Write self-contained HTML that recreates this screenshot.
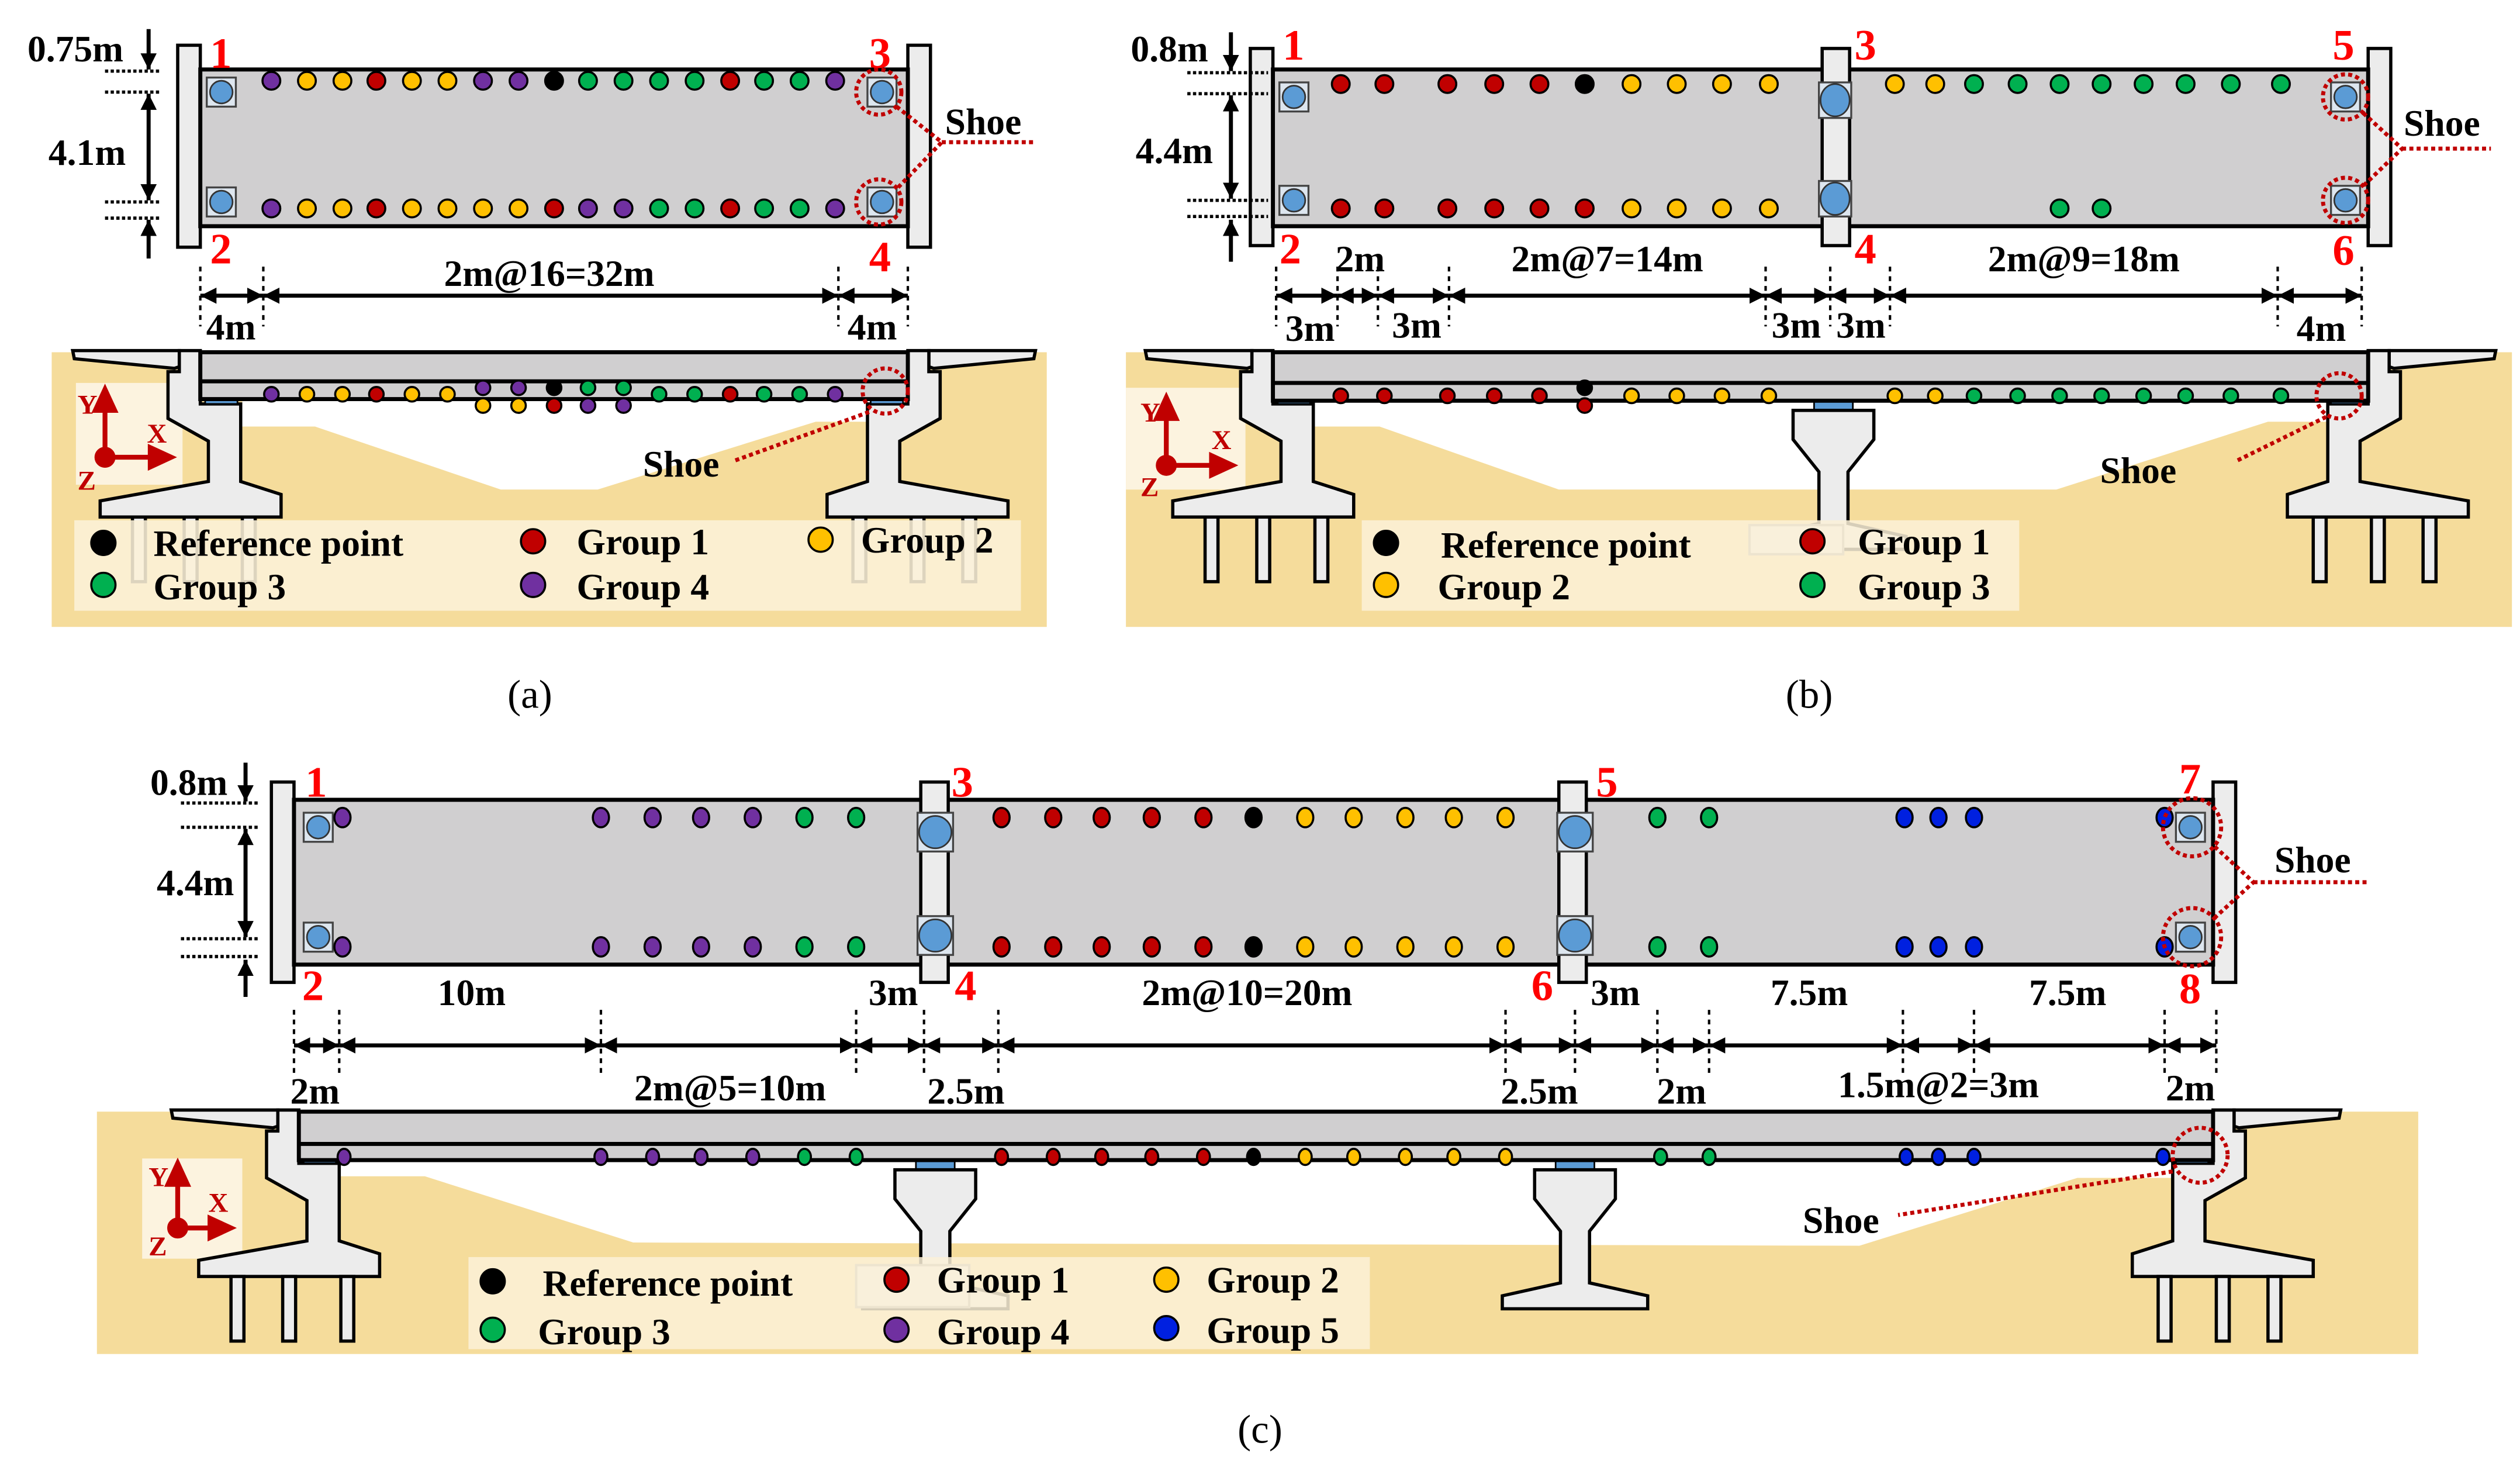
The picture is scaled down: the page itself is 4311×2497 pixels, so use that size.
<!DOCTYPE html>
<html><head><meta charset="utf-8"><style>
html,body{margin:0;padding:0;background:#fff;}
svg{display:block;}
text{font-family:"Liberation Serif",serif;font-weight:bold;font-size:23px;fill:#000;}
.n{fill:#ff0000;font-size:27px;}
.c{font-weight:normal;font-size:25px;}
.lg{font-size:23px;}
.ax{fill:#c00000;font-size:17px;}
.dim{stroke:#000;stroke-width:2.5;fill:none;}
.dot{stroke:#000;stroke-width:1.3;}
.vd{stroke:#000;stroke-width:1.5;stroke-dasharray:3,3;}
.hd{stroke:#000;stroke-width:2;stroke-dasharray:2,1.5;}
.sc{fill:none;stroke:#c00000;stroke-width:2.5;stroke-dasharray:2.5,2;}
.con{fill:#ececec;stroke:#000;stroke-width:2;}
.deck{fill:#d0cfd0;stroke:#000;stroke-width:2.5;}
</style></head><body>
<svg width="4311" height="2497" viewBox="0 0 1560 903.6" preserveAspectRatio="none" xmlns="http://www.w3.org/2000/svg">
<defs>
<marker id="ar" viewBox="0 0 10 10" refX="10" refY="5" markerWidth="4" markerHeight="4" orient="auto-start-reverse"><path d="M0,0L10,5L0,10z" fill="#000"/></marker>
<g id="shoe"><rect x="-9" y="-9" width="18" height="18" fill="#dde6ef" stroke="#444" stroke-width="1.2"/><circle r="7" fill="#5b9bd5" stroke="#333" stroke-width="1"/></g>
<g id="abut">
<polygon class="con" points="-79,-1 -13,-1 -13,9 -16,10 -78,4"/>
<polygon class="con" points="-13,-1 0,-1 0,32 25,32 25,80 50,88 50,102 -62,102 -62,92 5,80 5,55 -20,41 -20,12 -13,12"/>
<rect class="con" x="-42" y="102" width="8" height="40"/>
<rect class="con" x="-10" y="102" width="8" height="40"/>
<rect class="con" x="26" y="102" width="8" height="40"/>
<rect x="3" y="25" width="20" height="7" fill="#5b9bd5" stroke="#000" stroke-width="1"/>
</g>
<g id="pier">
<rect x="-12" y="0" width="24" height="6" fill="#5b9bd5" stroke="#000" stroke-width="1"/>
<polygon class="con" points="-25,6 25,6 25,24 9,44 9,76 45,84 45,92 -45,92 -45,84 -9,76 -9,44 -25,24"/>
</g>
</defs>

<!-- ============ (a) ============ -->
<rect x="32" y="218" width="616" height="170" fill="#f5dc9b"/>
<polygon points="150,247 560,247 560,261 505,261 370,303 310,303 195,264 150,264" fill="#fff"/>
<rect x="47" y="237" width="66" height="63" fill="#fcf3df"/>
<use href="#abut" transform="translate(124,218)"/>
<use href="#abut" transform="translate(562,218) scale(-1,1)"/>
<rect class="deck" x="124" y="218" width="438" height="29"/>
<line x1="124" y1="236" x2="562" y2="236" stroke="#000" stroke-width="2.5"/>
<g class="dot">
<circle cx="168" cy="244" r="4.5" fill="#7030a0"/><circle cx="190" cy="244" r="4.5" fill="#ffc000"/><circle cx="212" cy="244" r="4.5" fill="#ffc000"/><circle cx="233" cy="244" r="4.5" fill="#c00000"/><circle cx="255" cy="244" r="4.5" fill="#ffc000"/><circle cx="277" cy="244" r="4.5" fill="#ffc000"/>
<circle cx="299" cy="240" r="4.5" fill="#7030a0"/><circle cx="321" cy="240" r="4.5" fill="#7030a0"/><circle cx="343" cy="240" r="4.5" fill="#000"/><circle cx="364" cy="240" r="4.5" fill="#00b050"/><circle cx="386" cy="240" r="4.5" fill="#00b050"/>
<circle cx="299" cy="251" r="4.5" fill="#ffc000"/><circle cx="321" cy="251" r="4.5" fill="#ffc000"/><circle cx="343" cy="251" r="4.5" fill="#c00000"/><circle cx="364" cy="251" r="4.5" fill="#7030a0"/><circle cx="386" cy="251" r="4.5" fill="#7030a0"/>
<circle cx="408" cy="244" r="4.5" fill="#00b050"/><circle cx="430" cy="244" r="4.5" fill="#00b050"/><circle cx="452" cy="244" r="4.5" fill="#c00000"/><circle cx="473" cy="244" r="4.5" fill="#00b050"/><circle cx="495" cy="244" r="4.5" fill="#00b050"/><circle cx="517" cy="244" r="4.5" fill="#7030a0"/>
</g>
<circle class="sc" cx="548" cy="242" r="14"/>
<line class="sc" x1="538" y1="255" x2="455" y2="285"/>
<text x="398" y="295">Shoe</text>
<g stroke="#c00000" stroke-width="3" fill="#c00000"><line x1="65" y1="283" x2="65" y2="252"/><polygon points="59,254 65,241 71,254"/><line x1="65" y1="283" x2="95" y2="283"/><polygon points="93,277 106,283 93,289"/><circle cx="65" cy="283" r="5"/></g>
<text class="ax" x="48" y="256">Y</text><text class="ax" x="91" y="274">X</text><text class="ax" x="48" y="303">Z</text>
<rect x="46" y="322" width="586" height="56" fill="#fcf1d8" opacity="0.88"/>
<g class="dot"><circle cx="64" cy="336" r="7.5" fill="#000"/><circle cx="330" cy="335" r="7.5" fill="#c00000"/><circle cx="508" cy="334" r="7.5" fill="#ffc000"/><circle cx="64" cy="362" r="7.5" fill="#00b050"/><circle cx="330" cy="362" r="7.5" fill="#7030a0"/></g>
<text class="lg" x="95" y="344">Reference point</text><text class="lg" x="357" y="343">Group 1</text><text class="lg" x="533" y="342">Group 2</text><text class="lg" x="95" y="371">Group 3</text><text class="lg" x="357" y="371">Group 4</text>

<rect class="con" x="110" y="28" width="14" height="125"/>
<rect class="con" x="562" y="28" width="14" height="125"/>
<rect class="deck" x="124" y="43" width="438" height="97"/>
<use href="#shoe" x="137" y="57"/><use href="#shoe" x="137" y="125"/><use href="#shoe" x="546" y="57"/><use href="#shoe" x="546" y="125"/>
<g class="dot">
<circle cx="168" cy="50" r="5.5" fill="#7030a0"/><circle cx="190" cy="50" r="5.5" fill="#ffc000"/><circle cx="212" cy="50" r="5.5" fill="#ffc000"/><circle cx="233" cy="50" r="5.5" fill="#c00000"/><circle cx="255" cy="50" r="5.5" fill="#ffc000"/><circle cx="277" cy="50" r="5.5" fill="#ffc000"/><circle cx="299" cy="50" r="5.5" fill="#7030a0"/><circle cx="321" cy="50" r="5.5" fill="#7030a0"/><circle cx="343" cy="50" r="5.5" fill="#000"/><circle cx="364" cy="50" r="5.5" fill="#00b050"/><circle cx="386" cy="50" r="5.5" fill="#00b050"/><circle cx="408" cy="50" r="5.5" fill="#00b050"/><circle cx="430" cy="50" r="5.5" fill="#00b050"/><circle cx="452" cy="50" r="5.5" fill="#c00000"/><circle cx="473" cy="50" r="5.5" fill="#00b050"/><circle cx="495" cy="50" r="5.5" fill="#00b050"/><circle cx="517" cy="50" r="5.5" fill="#7030a0"/>
<circle cx="168" cy="129" r="5.5" fill="#7030a0"/><circle cx="190" cy="129" r="5.5" fill="#ffc000"/><circle cx="212" cy="129" r="5.5" fill="#ffc000"/><circle cx="233" cy="129" r="5.5" fill="#c00000"/><circle cx="255" cy="129" r="5.5" fill="#ffc000"/><circle cx="277" cy="129" r="5.5" fill="#ffc000"/><circle cx="299" cy="129" r="5.5" fill="#ffc000"/><circle cx="321" cy="129" r="5.5" fill="#ffc000"/><circle cx="343" cy="129" r="5.5" fill="#c00000"/><circle cx="364" cy="129" r="5.5" fill="#7030a0"/><circle cx="386" cy="129" r="5.5" fill="#7030a0"/><circle cx="408" cy="129" r="5.5" fill="#00b050"/><circle cx="430" cy="129" r="5.5" fill="#00b050"/><circle cx="452" cy="129" r="5.5" fill="#c00000"/><circle cx="473" cy="129" r="5.5" fill="#00b050"/><circle cx="495" cy="129" r="5.5" fill="#00b050"/><circle cx="517" cy="129" r="5.5" fill="#7030a0"/>
</g>
<circle class="sc" cx="544" cy="57" r="14"/><circle class="sc" cx="544" cy="125" r="14"/>
<polyline class="sc" points="555,66 583,88 555,117"/><line class="sc" x1="583" y1="88" x2="640" y2="88"/>
<text x="585" y="83">Shoe</text>
<text class="n" x="130" y="42">1</text><text class="n" x="130" y="163">2</text><text class="n" x="538" y="42">3</text><text class="n" x="538" y="168">4</text>
<text x="17" y="38">0.75m</text><text x="30" y="102">4.1m</text>
<line class="hd" x1="65" y1="44" x2="100" y2="44"/><line class="hd" x1="65" y1="57" x2="100" y2="57"/><line class="hd" x1="65" y1="125" x2="100" y2="125"/><line class="hd" x1="65" y1="135" x2="100" y2="135"/>
<line class="dim" x1="92" y1="18" x2="92" y2="43" marker-end="url(#ar)"/>
<line class="dim" x1="92" y1="58" x2="92" y2="124" marker-start="url(#ar)" marker-end="url(#ar)"/>
<line class="dim" x1="92" y1="160" x2="92" y2="136" marker-end="url(#ar)"/>
<g class="vd"><line x1="124" y1="165" x2="124" y2="202"/><line x1="163" y1="165" x2="163" y2="202"/><line x1="519" y1="165" x2="519" y2="202"/><line x1="562" y1="165" x2="562" y2="202"/></g>
<g class="dim"><line x1="124" y1="183" x2="163" y2="183" marker-start="url(#ar)" marker-end="url(#ar)"/><line x1="163" y1="183" x2="519" y2="183" marker-start="url(#ar)" marker-end="url(#ar)"/><line x1="519" y1="183" x2="562" y2="183" marker-start="url(#ar)" marker-end="url(#ar)"/></g>
<text x="340" y="177" text-anchor="middle">2m@16=32m</text>
<text x="143" y="210" text-anchor="middle">4m</text><text x="540" y="210" text-anchor="middle">4m</text>
<text class="c" x="328" y="438" text-anchor="middle">(a)</text>

<!-- ============ (b) ============ -->
<rect x="697" y="218" width="858" height="170" fill="#f5dc9b"/>
<polygon points="790,248 1466,248 1466,261 1404,261 1273,303 965,303 854,264 790,264" fill="#fff"/>
<rect x="697" y="240" width="74" height="63" fill="#fcf3df"/>
<use href="#abut" transform="translate(788,218)"/>
<use href="#abut" transform="translate(1466,218) scale(-1,1)"/>
<use href="#pier" transform="translate(1135,248)"/>
<rect class="deck" x="788" y="218" width="678" height="30"/>
<line x1="788" y1="237" x2="1466" y2="237" stroke="#000" stroke-width="2.5"/>
<g class="dot">
<circle cx="830" cy="245" r="4.5" fill="#c00000"/><circle cx="857" cy="245" r="4.5" fill="#c00000"/><circle cx="896" cy="245" r="4.5" fill="#c00000"/><circle cx="925" cy="245" r="4.5" fill="#c00000"/><circle cx="953" cy="245" r="4.5" fill="#c00000"/><circle cx="981" cy="240" r="4.5" fill="#000"/><circle cx="981" cy="251" r="4.5" fill="#c00000"/><circle cx="1010" cy="245" r="4.5" fill="#ffc000"/><circle cx="1038" cy="245" r="4.5" fill="#ffc000"/><circle cx="1066" cy="245" r="4.5" fill="#ffc000"/><circle cx="1095" cy="245" r="4.5" fill="#ffc000"/>
<circle cx="1173" cy="245" r="4.5" fill="#ffc000"/><circle cx="1198" cy="245" r="4.5" fill="#ffc000"/><circle cx="1222" cy="245" r="4.5" fill="#00b050"/><circle cx="1249" cy="245" r="4.5" fill="#00b050"/><circle cx="1275" cy="245" r="4.5" fill="#00b050"/><circle cx="1301" cy="245" r="4.5" fill="#00b050"/><circle cx="1327" cy="245" r="4.5" fill="#00b050"/><circle cx="1353" cy="245" r="4.5" fill="#00b050"/><circle cx="1381" cy="245" r="4.5" fill="#00b050"/><circle cx="1412" cy="245" r="4.5" fill="#00b050"/>
</g>
<circle class="sc" cx="1448" cy="245" r="14"/>
<line class="sc" x1="1440" y1="258" x2="1385" y2="285"/>
<text x="1300" y="299">Shoe</text>
<g stroke="#c00000" stroke-width="3" fill="#c00000"><line x1="722" y1="288" x2="722" y2="257"/><polygon points="716,259 722,246 728,259"/><line x1="722" y1="288" x2="752" y2="288"/><polygon points="750,282 763,288 750,294"/><circle cx="722" cy="288" r="5"/></g>
<text class="ax" x="706" y="261">Y</text><text class="ax" x="750" y="278">X</text><text class="ax" x="706" y="307">Z</text>
<rect x="1083" y="325" width="58" height="18" fill="#ececec" stroke="#999" stroke-width="1.5"/>
<rect x="843" y="322" width="407" height="56" fill="#fcf1d8" opacity="0.85"/>
<g class="dot"><circle cx="858" cy="336" r="7.5" fill="#000"/><circle cx="1122" cy="335" r="7.5" fill="#c00000"/><circle cx="858" cy="362" r="7.5" fill="#ffc000"/><circle cx="1122" cy="362" r="7.5" fill="#00b050"/></g>
<text class="lg" x="892" y="345">Reference point</text><text class="lg" x="1150" y="343">Group 1</text><text class="lg" x="890" y="371">Group 2</text><text class="lg" x="1150" y="371">Group 3</text>

<rect class="con" x="774" y="30" width="14" height="122"/>
<rect class="con" x="1466" y="30" width="14" height="122"/>
<rect class="deck" x="788" y="43" width="678" height="97"/>
<rect class="con" x="1128" y="30" width="17" height="122"/>
<use href="#shoe" x="801" y="60"/><use href="#shoe" x="801" y="124"/><use href="#shoe" x="1452" y="60"/><use href="#shoe" x="1452" y="124"/>
<g transform="translate(1136,62)"><rect x="-10" y="-11" width="20" height="22" fill="#dde6ef" stroke="#444" stroke-width="1.2"/><ellipse rx="9" ry="10" fill="#5b9bd5" stroke="#333"/></g>
<g transform="translate(1136,123)"><rect x="-10" y="-11" width="20" height="22" fill="#dde6ef" stroke="#444" stroke-width="1.2"/><ellipse rx="9" ry="10" fill="#5b9bd5" stroke="#333"/></g>
<g class="dot">
<circle cx="830" cy="52" r="5.5" fill="#c00000"/><circle cx="857" cy="52" r="5.5" fill="#c00000"/><circle cx="896" cy="52" r="5.5" fill="#c00000"/><circle cx="925" cy="52" r="5.5" fill="#c00000"/><circle cx="953" cy="52" r="5.5" fill="#c00000"/><circle cx="981" cy="52" r="5.5" fill="#000"/><circle cx="1010" cy="52" r="5.5" fill="#ffc000"/><circle cx="1038" cy="52" r="5.5" fill="#ffc000"/><circle cx="1066" cy="52" r="5.5" fill="#ffc000"/><circle cx="1095" cy="52" r="5.5" fill="#ffc000"/>
<circle cx="1173" cy="52" r="5.5" fill="#ffc000"/><circle cx="1198" cy="52" r="5.5" fill="#ffc000"/><circle cx="1222" cy="52" r="5.5" fill="#00b050"/><circle cx="1249" cy="52" r="5.5" fill="#00b050"/><circle cx="1275" cy="52" r="5.5" fill="#00b050"/><circle cx="1301" cy="52" r="5.5" fill="#00b050"/><circle cx="1327" cy="52" r="5.5" fill="#00b050"/><circle cx="1353" cy="52" r="5.5" fill="#00b050"/><circle cx="1381" cy="52" r="5.5" fill="#00b050"/><circle cx="1412" cy="52" r="5.5" fill="#00b050"/>
<circle cx="830" cy="129" r="5.5" fill="#c00000"/><circle cx="857" cy="129" r="5.5" fill="#c00000"/><circle cx="896" cy="129" r="5.5" fill="#c00000"/><circle cx="925" cy="129" r="5.5" fill="#c00000"/><circle cx="953" cy="129" r="5.5" fill="#c00000"/><circle cx="981" cy="129" r="5.5" fill="#c00000"/><circle cx="1010" cy="129" r="5.5" fill="#ffc000"/><circle cx="1038" cy="129" r="5.5" fill="#ffc000"/><circle cx="1066" cy="129" r="5.5" fill="#ffc000"/><circle cx="1095" cy="129" r="5.5" fill="#ffc000"/>
<circle cx="1275" cy="129" r="5.5" fill="#00b050"/><circle cx="1301" cy="129" r="5.5" fill="#00b050"/>
</g>
<circle class="sc" cx="1452" cy="60" r="14"/><circle class="sc" cx="1452" cy="124" r="14"/>
<polyline class="sc" points="1463,70 1487,92 1463,115"/><line class="sc" x1="1487" y1="92" x2="1542" y2="92"/>
<text x="1488" y="84">Shoe</text>
<text class="n" x="794" y="37">1</text><text class="n" x="792" y="163">2</text><text class="n" x="1148" y="37">3</text><text class="n" x="1148" y="163">4</text><text class="n" x="1444" y="37">5</text><text class="n" x="1444" y="164">6</text>
<text x="700" y="38">0.8m</text><text x="703" y="101">4.4m</text>
<line class="hd" x1="735" y1="45" x2="785" y2="45"/><line class="hd" x1="735" y1="58" x2="785" y2="58"/><line class="hd" x1="735" y1="124" x2="785" y2="124"/><line class="hd" x1="735" y1="134" x2="785" y2="134"/>
<line class="dim" x1="762" y1="20" x2="762" y2="44" marker-end="url(#ar)"/>
<line class="dim" x1="762" y1="59" x2="762" y2="123" marker-start="url(#ar)" marker-end="url(#ar)"/>
<line class="dim" x1="762" y1="162" x2="762" y2="136" marker-end="url(#ar)"/>
<g class="vd"><line x1="790" y1="165" x2="790" y2="202"/><line x1="828" y1="165" x2="828" y2="202"/><line x1="853" y1="165" x2="853" y2="202"/><line x1="897" y1="165" x2="897" y2="202"/><line x1="1093" y1="165" x2="1093" y2="202"/><line x1="1133" y1="165" x2="1133" y2="202"/><line x1="1170" y1="165" x2="1170" y2="202"/><line x1="1410" y1="165" x2="1410" y2="202"/><line x1="1462" y1="165" x2="1462" y2="202"/></g>
<g class="dim">
<line x1="790" y1="183" x2="828" y2="183" marker-start="url(#ar)" marker-end="url(#ar)"/><line x1="828" y1="183" x2="853" y2="183" marker-start="url(#ar)" marker-end="url(#ar)"/><line x1="853" y1="183" x2="897" y2="183" marker-start="url(#ar)" marker-end="url(#ar)"/><line x1="897" y1="183" x2="1093" y2="183" marker-start="url(#ar)" marker-end="url(#ar)"/><line x1="1093" y1="183" x2="1133" y2="183" marker-start="url(#ar)" marker-end="url(#ar)"/><line x1="1133" y1="183" x2="1170" y2="183" marker-start="url(#ar)" marker-end="url(#ar)"/><line x1="1170" y1="183" x2="1410" y2="183" marker-start="url(#ar)" marker-end="url(#ar)"/><line x1="1410" y1="183" x2="1462" y2="183" marker-start="url(#ar)" marker-end="url(#ar)"/>
</g>
<text x="842" y="168" text-anchor="middle">2m</text><text x="995" y="168" text-anchor="middle">2m@7=14m</text><text x="1290" y="168" text-anchor="middle">2m@9=18m</text>
<text x="811" y="211" text-anchor="middle">3m</text><text x="877" y="209" text-anchor="middle">3m</text><text x="1112" y="209" text-anchor="middle">3m</text><text x="1152" y="209" text-anchor="middle">3m</text><text x="1437" y="211" text-anchor="middle">4m</text>
<text class="c" x="1120" y="438" text-anchor="middle">(b)</text>

<!-- ============ (c) ============ -->
<rect x="60" y="688" width="1437" height="150" fill="#f5dc9b"/>
<polygon points="200,718 1345,718 1345,729 1286,729 1151,771 392,769 263,728 200,728" fill="#fff"/>
<rect x="88" y="717" width="62" height="62" fill="#fcf3df"/>
<use href="#abut" transform="translate(185,688)"/>
<use href="#abut" transform="translate(1370,688) scale(-1,1)"/>
<use href="#pier" transform="translate(579,718)"/>
<use href="#pier" transform="translate(975,718)"/>
<rect class="deck" x="185" y="688" width="1185" height="30"/>
<line x1="185" y1="708" x2="1370" y2="708" stroke="#000" stroke-width="2.5"/>
<g class="dot">
<ellipse cx="213" cy="716" rx="4" ry="5" fill="#7030a0"/><ellipse cx="372" cy="716" rx="4" ry="5" fill="#7030a0"/><ellipse cx="404" cy="716" rx="4" ry="5" fill="#7030a0"/><ellipse cx="434" cy="716" rx="4" ry="5" fill="#7030a0"/><ellipse cx="466" cy="716" rx="4" ry="5" fill="#7030a0"/><ellipse cx="498" cy="716" rx="4" ry="5" fill="#00b050"/><ellipse cx="530" cy="716" rx="4" ry="5" fill="#00b050"/>
<ellipse cx="620" cy="716" rx="4" ry="5" fill="#c00000"/><ellipse cx="652" cy="716" rx="4" ry="5" fill="#c00000"/><ellipse cx="682" cy="716" rx="4" ry="5" fill="#c00000"/><ellipse cx="713" cy="716" rx="4" ry="5" fill="#c00000"/><ellipse cx="745" cy="716" rx="4" ry="5" fill="#c00000"/><ellipse cx="776" cy="716" rx="4" ry="5" fill="#000"/><ellipse cx="808" cy="716" rx="4" ry="5" fill="#ffc000"/><ellipse cx="838" cy="716" rx="4" ry="5" fill="#ffc000"/><ellipse cx="870" cy="716" rx="4" ry="5" fill="#ffc000"/><ellipse cx="900" cy="716" rx="4" ry="5" fill="#ffc000"/><ellipse cx="932" cy="716" rx="4" ry="5" fill="#ffc000"/>
<ellipse cx="1028" cy="716" rx="4" ry="5" fill="#00b050"/><ellipse cx="1058" cy="716" rx="4" ry="5" fill="#00b050"/><ellipse cx="1180" cy="716" rx="4" ry="5" fill="#0020e0"/><ellipse cx="1200" cy="716" rx="4" ry="5" fill="#0020e0"/><ellipse cx="1222" cy="716" rx="4" ry="5" fill="#0020e0"/><ellipse cx="1339" cy="716" rx="4" ry="5" fill="#0020e0"/>
</g>
<circle class="sc" cx="1362" cy="715" r="17"/>
<line class="sc" x1="1345" y1="725" x2="1175" y2="752"/>
<text x="1116" y="763">Shoe</text>
<g stroke="#c00000" stroke-width="3" fill="#c00000"><line x1="110" y1="760" x2="110" y2="731"/><polygon points="104,733 110,720 116,733"/><line x1="110" y1="760" x2="132" y2="760"/><polygon points="130,754 143,760 130,766"/><circle cx="110" cy="760" r="5"/></g>
<text class="ax" x="92" y="734">Y</text><text class="ax" x="129" y="750">X</text><text class="ax" x="92" y="777">Z</text>
<rect x="530" y="783" width="70" height="26" fill="#ececec" stroke="#999" stroke-width="1.5"/>
<rect x="290" y="778" width="558" height="57" fill="#fcf1d8" opacity="0.85"/>
<g class="dot"><circle cx="305" cy="793" r="7.5" fill="#000"/><circle cx="555" cy="792" r="7.5" fill="#c00000"/><circle cx="722" cy="792" r="7.5" fill="#ffc000"/><circle cx="305" cy="823" r="7.5" fill="#00b050"/><circle cx="555" cy="823" r="7.5" fill="#7030a0"/><circle cx="722" cy="822" r="7.5" fill="#0020e0"/></g>
<text class="lg" x="336" y="802">Reference point</text><text class="lg" x="580" y="800">Group 1</text><text class="lg" x="747" y="800">Group 2</text><text class="lg" x="333" y="832">Group 3</text><text class="lg" x="580" y="832">Group 4</text><text class="lg" x="747" y="831">Group 5</text>

<rect class="con" x="168" y="484" width="14" height="124"/>
<rect class="con" x="1370" y="484" width="14" height="124"/>
<rect class="deck" x="182" y="495" width="1188" height="102"/>
<rect class="con" x="570" y="484" width="17" height="124"/>
<rect class="con" x="965" y="484" width="17" height="124"/>
<use href="#shoe" x="197" y="512"/><use href="#shoe" x="197" y="580"/><use href="#shoe" x="1356" y="512"/><use href="#shoe" x="1356" y="580"/>
<g transform="translate(579,515)"><rect x="-11" y="-12" width="22" height="24" fill="#dde6ef" stroke="#444" stroke-width="1.2"/><ellipse rx="10" ry="10" fill="#5b9bd5" stroke="#333"/></g>
<g transform="translate(579,579)"><rect x="-11" y="-12" width="22" height="24" fill="#dde6ef" stroke="#444" stroke-width="1.2"/><ellipse rx="10" ry="10" fill="#5b9bd5" stroke="#333"/></g>
<g transform="translate(975,515)"><rect x="-11" y="-12" width="22" height="24" fill="#dde6ef" stroke="#444" stroke-width="1.2"/><ellipse rx="10" ry="10" fill="#5b9bd5" stroke="#333"/></g>
<g transform="translate(975,579)"><rect x="-11" y="-12" width="22" height="24" fill="#dde6ef" stroke="#444" stroke-width="1.2"/><ellipse rx="10" ry="10" fill="#5b9bd5" stroke="#333"/></g>
<g class="dot">
<ellipse cx="212" cy="506" rx="5" ry="6" fill="#7030a0"/><ellipse cx="372" cy="506" rx="5" ry="6" fill="#7030a0"/><ellipse cx="404" cy="506" rx="5" ry="6" fill="#7030a0"/><ellipse cx="434" cy="506" rx="5" ry="6" fill="#7030a0"/><ellipse cx="466" cy="506" rx="5" ry="6" fill="#7030a0"/><ellipse cx="498" cy="506" rx="5" ry="6" fill="#00b050"/><ellipse cx="530" cy="506" rx="5" ry="6" fill="#00b050"/>
<ellipse cx="620" cy="506" rx="5" ry="6" fill="#c00000"/><ellipse cx="652" cy="506" rx="5" ry="6" fill="#c00000"/><ellipse cx="682" cy="506" rx="5" ry="6" fill="#c00000"/><ellipse cx="713" cy="506" rx="5" ry="6" fill="#c00000"/><ellipse cx="745" cy="506" rx="5" ry="6" fill="#c00000"/><ellipse cx="776" cy="506" rx="5" ry="6" fill="#000"/><ellipse cx="808" cy="506" rx="5" ry="6" fill="#ffc000"/><ellipse cx="838" cy="506" rx="5" ry="6" fill="#ffc000"/><ellipse cx="870" cy="506" rx="5" ry="6" fill="#ffc000"/><ellipse cx="900" cy="506" rx="5" ry="6" fill="#ffc000"/><ellipse cx="932" cy="506" rx="5" ry="6" fill="#ffc000"/>
<ellipse cx="1026" cy="506" rx="5" ry="6" fill="#00b050"/><ellipse cx="1058" cy="506" rx="5" ry="6" fill="#00b050"/><ellipse cx="1179" cy="506" rx="5" ry="6" fill="#0020e0"/><ellipse cx="1200" cy="506" rx="5" ry="6" fill="#0020e0"/><ellipse cx="1222" cy="506" rx="5" ry="6" fill="#0020e0"/><ellipse cx="1340" cy="506" rx="5" ry="6" fill="#0020e0"/>
<ellipse cx="212" cy="586" rx="5" ry="6" fill="#7030a0"/><ellipse cx="372" cy="586" rx="5" ry="6" fill="#7030a0"/><ellipse cx="404" cy="586" rx="5" ry="6" fill="#7030a0"/><ellipse cx="434" cy="586" rx="5" ry="6" fill="#7030a0"/><ellipse cx="466" cy="586" rx="5" ry="6" fill="#7030a0"/><ellipse cx="498" cy="586" rx="5" ry="6" fill="#00b050"/><ellipse cx="530" cy="586" rx="5" ry="6" fill="#00b050"/>
<ellipse cx="620" cy="586" rx="5" ry="6" fill="#c00000"/><ellipse cx="652" cy="586" rx="5" ry="6" fill="#c00000"/><ellipse cx="682" cy="586" rx="5" ry="6" fill="#c00000"/><ellipse cx="713" cy="586" rx="5" ry="6" fill="#c00000"/><ellipse cx="745" cy="586" rx="5" ry="6" fill="#c00000"/><ellipse cx="776" cy="586" rx="5" ry="6" fill="#000"/><ellipse cx="808" cy="586" rx="5" ry="6" fill="#ffc000"/><ellipse cx="838" cy="586" rx="5" ry="6" fill="#ffc000"/><ellipse cx="870" cy="586" rx="5" ry="6" fill="#ffc000"/><ellipse cx="900" cy="586" rx="5" ry="6" fill="#ffc000"/><ellipse cx="932" cy="586" rx="5" ry="6" fill="#ffc000"/>
<ellipse cx="1026" cy="586" rx="5" ry="6" fill="#00b050"/><ellipse cx="1058" cy="586" rx="5" ry="6" fill="#00b050"/><ellipse cx="1179" cy="586" rx="5" ry="6" fill="#0020e0"/><ellipse cx="1200" cy="586" rx="5" ry="6" fill="#0020e0"/><ellipse cx="1222" cy="586" rx="5" ry="6" fill="#0020e0"/><ellipse cx="1340" cy="586" rx="5" ry="6" fill="#0020e0"/>
</g>
<circle class="sc" cx="1357" cy="512" r="18"/><circle class="sc" cx="1357" cy="580" r="18"/>
<polyline class="sc" points="1371,524 1395,546 1371,568"/><line class="sc" x1="1395" y1="546" x2="1466" y2="546"/>
<text x="1408" y="540">Shoe</text>
<text class="n" x="189" y="493">1</text><text class="n" x="187" y="619">2</text><text class="n" x="589" y="493">3</text><text class="n" x="591" y="619">4</text><text class="n" x="988" y="493">5</text><text class="n" x="948" y="619">6</text><text class="n" x="1349" y="491">7</text><text class="n" x="1349" y="621">8</text>
<text x="93" y="492">0.8m</text><text x="97" y="554">4.4m</text>
<line class="hd" x1="112" y1="497" x2="160" y2="497"/><line class="hd" x1="112" y1="512" x2="160" y2="512"/><line class="hd" x1="112" y1="581" x2="160" y2="581"/><line class="hd" x1="112" y1="592" x2="160" y2="592"/>
<line class="dim" x1="152" y1="472" x2="152" y2="496" marker-end="url(#ar)"/>
<line class="dim" x1="152" y1="513" x2="152" y2="580" marker-start="url(#ar)" marker-end="url(#ar)"/>
<line class="dim" x1="152" y1="617" x2="152" y2="594" marker-end="url(#ar)"/>
<g class="vd"><line x1="182" y1="625" x2="182" y2="667"/><line x1="210" y1="625" x2="210" y2="667"/><line x1="372" y1="625" x2="372" y2="667"/><line x1="530" y1="625" x2="530" y2="667"/><line x1="572" y1="625" x2="572" y2="667"/><line x1="618" y1="625" x2="618" y2="667"/><line x1="932" y1="625" x2="932" y2="667"/><line x1="975" y1="625" x2="975" y2="667"/><line x1="1026" y1="625" x2="1026" y2="667"/><line x1="1058" y1="625" x2="1058" y2="667"/><line x1="1178" y1="625" x2="1178" y2="667"/><line x1="1222" y1="625" x2="1222" y2="667"/><line x1="1340" y1="625" x2="1340" y2="667"/><line x1="1372" y1="625" x2="1372" y2="667"/></g>
<g class="dim">
<line x1="182" y1="647" x2="210" y2="647" marker-start="url(#ar)" marker-end="url(#ar)"/><line x1="210" y1="647" x2="372" y2="647" marker-start="url(#ar)" marker-end="url(#ar)"/><line x1="372" y1="647" x2="530" y2="647" marker-start="url(#ar)" marker-end="url(#ar)"/><line x1="530" y1="647" x2="572" y2="647" marker-start="url(#ar)" marker-end="url(#ar)"/><line x1="572" y1="647" x2="618" y2="647" marker-start="url(#ar)" marker-end="url(#ar)"/><line x1="618" y1="647" x2="932" y2="647" marker-start="url(#ar)" marker-end="url(#ar)"/><line x1="932" y1="647" x2="975" y2="647" marker-start="url(#ar)" marker-end="url(#ar)"/><line x1="975" y1="647" x2="1026" y2="647" marker-start="url(#ar)" marker-end="url(#ar)"/><line x1="1026" y1="647" x2="1058" y2="647" marker-start="url(#ar)" marker-end="url(#ar)"/><line x1="1058" y1="647" x2="1178" y2="647" marker-start="url(#ar)" marker-end="url(#ar)"/><line x1="1178" y1="647" x2="1222" y2="647" marker-start="url(#ar)" marker-end="url(#ar)"/><line x1="1222" y1="647" x2="1340" y2="647" marker-start="url(#ar)" marker-end="url(#ar)"/><line x1="1340" y1="647" x2="1372" y2="647" marker-start="url(#ar)" marker-end="url(#ar)"/>
</g>
<text x="292" y="622" text-anchor="middle">10m</text><text x="553" y="622" text-anchor="middle">3m</text><text x="772" y="622" text-anchor="middle">2m@10=20m</text><text x="1000" y="622" text-anchor="middle">3m</text><text x="1120" y="622" text-anchor="middle">7.5m</text><text x="1280" y="622" text-anchor="middle">7.5m</text>
<text x="195" y="683" text-anchor="middle">2m</text><text x="452" y="681" text-anchor="middle">2m@5=10m</text><text x="598" y="683" text-anchor="middle">2.5m</text><text x="953" y="683" text-anchor="middle">2.5m</text><text x="1041" y="683" text-anchor="middle">2m</text><text x="1200" y="679" text-anchor="middle">1.5m@2=3m</text><text x="1356" y="681" text-anchor="middle">2m</text>
<text class="c" x="780" y="893" text-anchor="middle">(c)</text>
</svg>
</body></html>
